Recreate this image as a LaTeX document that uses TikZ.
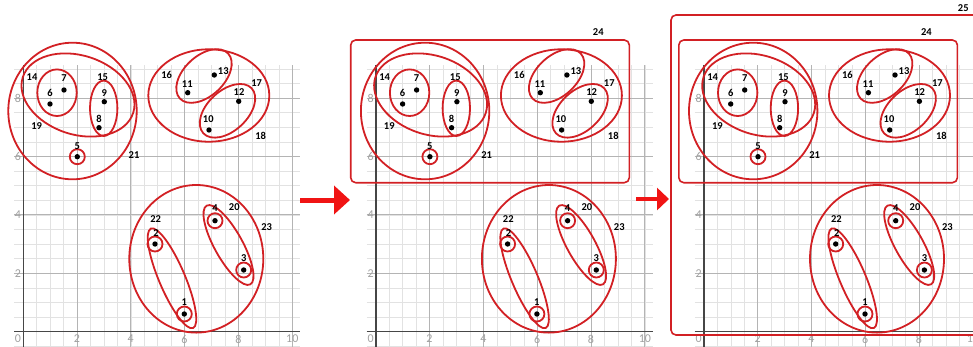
\documentclass[tikz,border=0pt]{standalone}
\usepackage{fontspec}
\setmainfont{Carlito}
\usetikzlibrary{arrows.meta}
\definecolor{setred}{RGB}{210,32,36}
\definecolor{arrowred}{RGB}{240,20,20}
\definecolor{gridminor}{RGB}{226,226,226}
\definecolor{gridmajor}{RGB}{180,180,180}
\definecolor{axiscol}{RGB}{70,70,70}
\definecolor{ticklab}{RGB}{160,160,160}
\tikzset{
 setline/.style={draw=setred, line width=1.8pt},
 dot/.style={circle, fill=black, inner sep=0pt, minimum size=5.4pt},
 lab/.style={font=\bfseries\fontsize{10.5}{12}\selectfont, inner sep=0pt},
 ticklabel/.style={font=\fontsize{12}{14}\selectfont, text=ticklab, inner sep=0pt},
 minorgrid/.style={draw=gridminor, line width=0.7pt},
 majorgrid/.style={draw=gridmajor, line width=0.9pt},
 axisline/.style={draw=axiscol, line width=1.2pt},
 bigarrow/.style={draw=arrowred, line width=5pt, -{Triangle[length=16pt,width=28pt]}},
 smallarrow/.style={draw=arrowred, line width=4.5pt, -{Triangle[length=12pt,width=22pt]}},
 setrect/.style={draw=setred, line width=1.6pt, rounded corners=5pt}
}
\newcommand\drawpanel{%
 % grid
 \foreach \k in {0,...,20}{\draw[minorgrid] ({23.3+\k*13.45},65) -- ({23.3+\k*13.45},350);}
 \foreach \k in {-1,...,18}{\draw[minorgrid] (14,{331.7-\k*14.6}) -- (300,{331.7-\k*14.6});}
 \foreach \k in {4,8,...,20}{\draw[majorgrid] ({23.3+\k*13.45},65) -- ({23.3+\k*13.45},350);}
 \foreach \k in {4,8,12,16}{\draw[majorgrid] (14,{331.7-\k*14.6}) -- (300,{331.7-\k*14.6});}
 \draw[axisline] (14,331.7) -- (300,331.7);
 \draw[axisline] (23.3,65) -- (23.3,350);
 % tick labels
 \node[ticklabel] (tx0) at (18,339) {0};
 \node[ticklabel] (tx2) at (76.9,339) {2};
 \node[ticklabel] (tx4) at (130.7,339) {4};
 \node[ticklabel] (tx6) at (184.5,339) {6};
 \node[ticklabel] (tx8) at (238.3,339) {8};
 \node[ticklabel] (tx10) at (292.3,339) {10};
 \node[ticklabel] (ty2) at (18,273.3) {2};
 \node[ticklabel] (ty4) at (18,214.9) {4};
 \node[ticklabel] (ty6) at (18,156.5) {6};
 \node[ticklabel] (ty8) at (18,98.1) {8};
 % points
 \node[dot] (p1) at (184.3,314) {};
 \node[dot] (p2) at (155,244) {};
 \node[dot] (p3) at (243.7,270) {};
 \node[dot] (p4) at (215,220.7) {};
 \node[dot] (p5) at (77.3,156.7) {};
 \node[dot] (p6) at (50,104) {};
 \node[dot] (p7) at (64,90) {};
 \node[dot] (p8) at (99,127.7) {};
 \node[dot] (p9) at (104.3,101.7) {};
 \node[dot] (p10) at (209,130) {};
 \node[dot] (p11) at (187.7,92.7) {};
 \node[dot] (p12) at (238.7,101.3) {};
 \node[dot] (p13) at (214.3,75) {};
 % left group
 \draw[setline] (p5) circle [radius=7.5];
 \draw[setline] (57,92.7) ellipse [x radius=19.7, y radius=23.3];
 \draw[setline] (103.7,108.3) ellipse [x radius=13.7, y radius=27.7];
 \draw[setline, rotate around={-18:(78,95)}] (78,95) ellipse [x radius=58, y radius=39.5];
 \draw[setline] (72.5,111) ellipse [x radius=64.2, y radius=68.3];
 % right group
 \draw[setline] (208.8,95.5) ellipse [x radius=60.5, y radius=46.2];
 \draw[setline, rotate around={43:(204,76)}] (204,76) ellipse [x radius=33, y radius=20];
 \draw[setline, rotate around={43:(227.5,110.8)}] (227.5,110.8) ellipse [x radius=33, y radius=20];
 % bottom group
 \draw[setline] (p1) circle [radius=7.5];
 \draw[setline] (p2) circle [radius=7.5];
 \draw[setline] (p3) circle [radius=7.5];
 \draw[setline] (p4) circle [radius=7.5];
 \draw[setline, rotate around={-67:(172,278.3)}] (172,278.3) ellipse [x radius=54, y radius=13];
 \draw[setline, rotate around={-61:(228.5,245)}] (228.5,245) ellipse [x radius=45, y radius=14];
 \draw[setline] (196.3,258.8) ellipse [x radius=67, y radius=73.8];
 % labels
 \node[lab] (l1) at (184.3,301.7) {1};
 \node[lab] (l2) at (156,233.3) {2};
 \node[lab] (l3) at (243.7,257.7) {3};
 \node[lab] (l4) at (215,208.3) {4};
 \node[lab] (l5) at (77.3,145.7) {5};
 \node[lab] (l6) at (50,93.3) {6};
 \node[lab] (l7) at (64,78.3) {7};
 \node[lab] (l8) at (99,119) {8};
 \node[lab] (l9) at (104.3,92.7) {9};
 \node[lab] (l10) at (208.3,119.3) {10};
 \node[lab] (l11) at (187.3,84) {11};
 \node[lab] (l12) at (239,91.7) {12};
 \node[lab] (l13) at (223.3,70.7) {13};
 \node[lab] (l14) at (32,76.7) {14};
 \node[lab] (l15) at (102.7,76.7) {15};
 \node[lab] (l16) at (166.7,75) {16};
 \node[lab] (l17) at (256.7,82.7) {17};
 \node[lab] (l18) at (260.7,136) {18};
 \node[lab] (l19) at (36.7,125.7) {19};
 \node[lab] (l20) at (234.3,207.3) {20};
 \node[lab] (l21) at (134,155.3) {21};
 \node[lab] (l22) at (155.7,219.3) {22};
 \node[lab] (l23) at (266.7,227.3) {23};
}
\newcommand\drawrecttf{%
 \draw[setrect] (-1.9,40) rectangle (276.7,182.7);
 \node[lab] (l24) at (245.7,31.7) {24};
}
\begin{document}
\begin{tikzpicture}[x=1pt,y=-1pt]
\useasboundingbox (0,0) rectangle (973,346);
\begin{scope}[name prefix=A-]
 \drawpanel
\end{scope}
\begin{scope}[xshift=352.6pt, name prefix=B-]
 \drawpanel
 \drawrecttf
\end{scope}
\begin{scope}[xshift=680.7pt, name prefix=C-]
 \drawpanel
 \drawrecttf
 \draw[setrect] (-9.7,15) rectangle (310,335);
 \node[lab] (l25) at (282.6,8.3) {25};
\end{scope}
\coordinate (a1s) at (300,200);
\coordinate (a1e) at (350,200);
\coordinate (a2s) at (636,199);
\coordinate (a2e) at (669,199);
\draw[bigarrow] (a1s) -- (a1e);
\draw[smallarrow] (a2s) -- (a2e);
\end{tikzpicture}
\end{document}
